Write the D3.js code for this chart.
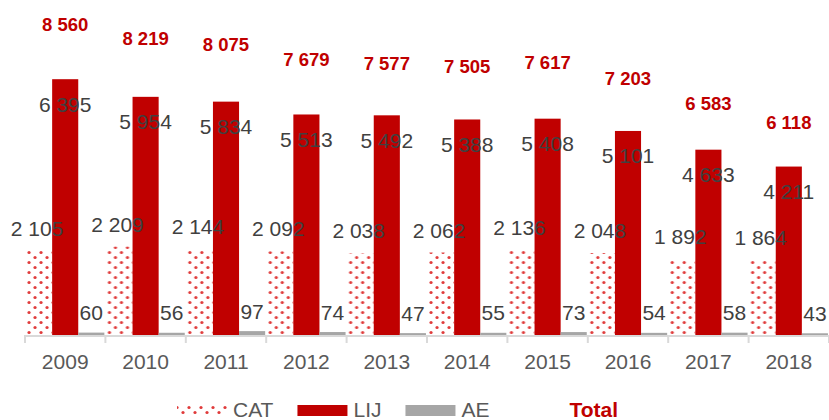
<!DOCTYPE html>
<html>
<head>
<meta charset="utf-8">
<script src="https://cdn.jsdelivr.net/npm/d3@7"></script>
<style>
  body { margin: 0; background: #fff; }
  text { font-family: "Liberation Sans", Arial, sans-serif; }
</style>
</head>
<body>
<div id="chart"></div>
<script>
// Chart data
var years = ["2009", "2010", "2011", "2012", "2013", "2014", "2015", "2016", "2017", "2018"];
var catValues = [2105, 2209, 2144, 2092, 2038, 2062, 2136, 2048, 1892, 1864];
var lijValues = [6395, 5954, 5834, 5513, 5492, 5388, 5408, 5101, 4633, 4211];
var aeValues = [60, 56, 97, 74, 47, 55, 73, 54, 58, 43];
var totalValues = [8560, 8219, 8075, 7679, 7577, 7505, 7617, 7203, 6583, 6118];
var seriesNames = ["CAT", "LIJ", "AE", "Total"];

var svgWidth = 829;
var svgHeight = 420;
var baseY = 335;

var svg = d3.select("#chart")
  .append("svg")
  .attr("width", svgWidth)
  .attr("height", svgHeight);

// dotted fill for CAT
var defs = svg.append("defs");
var pat = defs.append("pattern")
  .attr("id", "dots")
  .attr("patternUnits", "userSpaceOnUse")
  .attr("width", 12)
  .attr("height", 10);
pat.append("rect").attr("width", 12).attr("height", 10).attr("fill", "#fff");
pat.append("circle").attr("cx", 3).attr("cy", 2.5).attr("r", 1.6).attr("fill", "#e03a3a");
pat.append("circle").attr("cx", 9).attr("cy", 7.5).attr("r", 1.6).attr("fill", "#e03a3a");

var fmt = d3.formatLocale({ decimal: ",", thousands: " ", grouping: [3], currency: ["", ""] }).format(",d");

// scales
var x = d3.scaleBand()
  .domain(years)
  .range([25, 829])
  .paddingInner(0.026)
  .paddingOuter(0.013);

var xSub = d3.scaleBand()
  .domain(["CAT", "LIJ", "AE"])
  .range([0, x.bandwidth()]);

var y = d3.scaleLinear()
  .domain([0, 8375])
  .range([baseY, 0]);

var rows = years.map(function(yr, i) {
  return { year: yr, CAT: catValues[i], LIJ: lijValues[i], AE: aeValues[i], Total: totalValues[i] };
});

var fills = { CAT: "url(#dots)", LIJ: "#c00000", AE: "#a6a6a6" };

// bars
var groups = svg.append("g")
  .selectAll("g")
  .data(rows)
  .enter()
  .append("g")
  .attr("transform", d => `translate(${x(d.year)},0)`);

["CAT", "LIJ", "AE"].forEach(function(key) {
  groups.append("rect")
    .attr("x", xSub(key))
    .attr("y", d => y(d[key]))
    .attr("width", xSub.bandwidth())
    .attr("height", d => baseY - y(d[key]))
    .attr("fill", fills[key]);
});

// x axis
var step = x.step();
var bounds = d3.range(years.length + 1).map(i => 25 + i * step);

svg.append("line")
  .attr("x1", 25).attr("x2", svgWidth)
  .attr("y1", baseY + 1).attr("y2", baseY + 1)
  .attr("stroke", "#d9d9d9")
  .attr("stroke-width", 2);

svg.append("g")
  .selectAll("line")
  .data(bounds)
  .enter()
  .append("line")
  .attr("x1", d => d).attr("x2", d => d)
  .attr("y1", baseY).attr("y2", baseY + 8)
  .attr("stroke", "#d9d9d9")
  .attr("stroke-width", 2);

var xAxis = svg.append("g")
  .attr("transform", `translate(0, ${baseY})`)
  .call(d3.axisBottom(x).tickSize(0).tickSizeOuter(0));
xAxis.select(".domain").remove();
xAxis.selectAll("text")
  .attr("y", 34)
  .attr("dy", 0)
  .attr("fill", "#595959")
  .style("font-size", "21px")
  .style("font-family", "'Liberation Sans', Arial, sans-serif");

// value labels
groups.append("text")
  .attr("x", xSub("CAT") + xSub.bandwidth() / 2 - 2)
  .attr("y", d => y(d.CAT) - 15)
  .attr("text-anchor", "middle")
  .attr("fill", "#404040")
  .style("font-size", "21px")
  .text(d => fmt(d.CAT));

groups.append("text")
  .attr("x", xSub("LIJ") + xSub.bandwidth() / 2)
  .attr("y", d => y(d.LIJ) + 32.5)
  .attr("text-anchor", "middle")
  .attr("fill", "#404040")
  .style("font-size", "21px")
  .text(d => fmt(d.LIJ));

groups.append("text")
  .attr("x", xSub("AE") + xSub.bandwidth() / 2)
  .attr("y", d => y(d.AE) - 12.5)
  .attr("text-anchor", "middle")
  .attr("fill", "#404040")
  .style("font-size", "21px")
  .text(d => fmt(d.AE));

groups.append("text")
  .attr("x", x.bandwidth() / 2)
  .attr("y", d => y(d.Total) + 38.5)
  .attr("text-anchor", "middle")
  .attr("fill", "#c00000")
  .style("font-size", "18.5px")
  .style("font-weight", "bold")
  .text(d => fmt(d.Total));

// legend
var legend = svg.append("g");
var lx = 177;
seriesNames.forEach(function(name) {
  if (name !== "Total") {
    legend.append("rect")
      .attr("x", lx)
      .attr("y", name === "CAT" ? 406 : 405)
      .attr("width", 50)
      .attr("height", name === "CAT" ? 9 : 11)
      .attr("fill", fills[name]);
  }
  var t = legend.append("text")
    .attr("x", lx + 56)
    .attr("y", 417)
    .attr("fill", name === "Total" ? "#c00000" : "#595959")
    .style("font-size", "21px")
    .style("font-weight", name === "Total" ? "bold" : "normal")
    .text(name);
  lx += 56 + t.node().getComputedTextLength() + 24;
});
</script>
</body>
</html>
